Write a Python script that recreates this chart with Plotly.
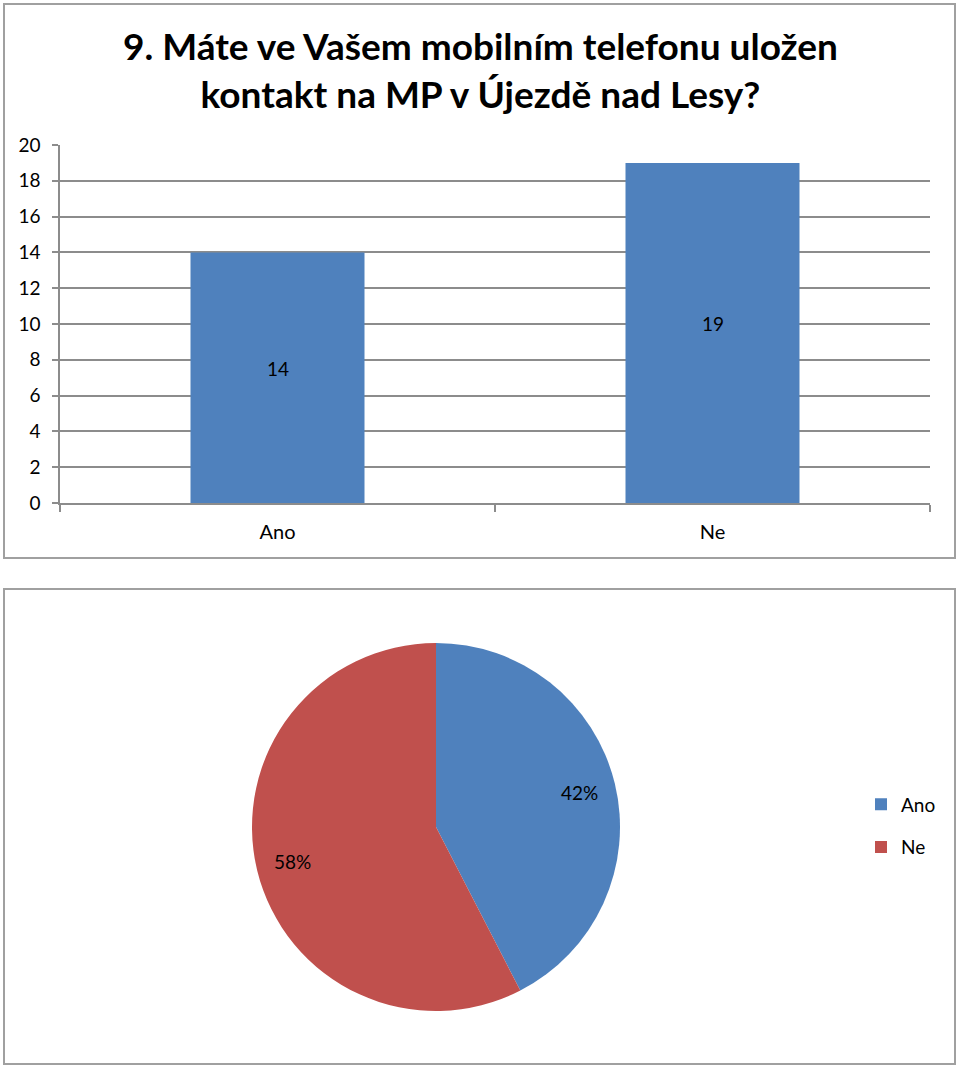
import math
import plotly.graph_objects as go

categories = ["Ano", "Ne"]
counts = [14, 19]
colors = ["#4F81BD", "#C0504D"]
title_lines = ["9. Máte ve Vašem mobilním telefonu uložen", "kontakt na MP v Újezdě nad Lesy?"]
y_ticks = [0, 2, 4, 6, 8, 10, 12, 14, 16, 18, 20]

W, H = 960, 1066
FONT = "Lato, Carlito, Calibri, sans-serif"

def px_x(x):
    return x / W

def px_y(y):
    return 1 - y / H

fig = go.Figure()

fig.add_trace(go.Bar(
    x=categories, y=counts, marker_color=colors[0], marker_line_width=0,
    xaxis="x", yaxis="y", showlegend=False, hoverinfo="skip",
))

total = sum(counts)
fig.add_trace(go.Pie(
    labels=categories, values=counts, marker=dict(colors=colors, line=dict(width=0)),
    sort=False, direction="clockwise", rotation=0, textinfo="none",
    domain=dict(x=[px_x(252), px_x(620)], y=[px_y(1011), px_y(643)]),
    showlegend=False, hoverinfo="skip", automargin=False,
))

# legend entries for the pie slices (legend only, no marks drawn)
for lab, col in zip(categories, colors):
    fig.add_trace(go.Scatter(
        x=[None], y=[None], mode="markers", name=lab, legendgroup=lab,
        marker=dict(symbol="square", size=12, color=col), showlegend=True,
        hoverinfo="skip",
    ))

annotations = []

# bar value labels, centred in each bar (slightly raised like the original)
for lab, v in zip(categories, counts):
    annotations.append(dict(
        x=lab, y=v / 2, xref="x", yref="y", showarrow=False, yshift=9,
        text=str(v), font=dict(size=19, family=FONT, color="#000000"),
    ))

# percentage labels placed along each slice's mid-angle
cx, cy, r = 436, 827, 184
start = 0.0
for lab, v in zip(categories, counts):
    frac = v / total
    mid = (start + frac / 2) * 2 * math.pi
    start += frac
    lx = cx + 0.8 * r * math.sin(mid)
    ly = cy - 0.8 * r * math.cos(mid)
    annotations.append(dict(
        x=px_x(lx), y=px_y(ly), xref="paper", yref="paper", showarrow=False,
        xanchor="center", yanchor="middle",
        text=f"{round(frac * 100)}%", font=dict(size=19, family=FONT, color="#000000"),
    ))

annotations.append(dict(
    x=0.5, y=px_y(70), xref="paper", yref="paper", showarrow=False,
    text="<b>" + title_lines[0] + "<br>" + title_lines[1] + "</b>",
    font=dict(size=37, family=FONT, color="#000000"), yanchor="middle",
))

fig.update_layout(
    width=W, height=H, margin=dict(l=0, r=0, t=0, b=0, autoexpand=False),
    paper_bgcolor="white", plot_bgcolor="white",
    font=dict(family=FONT, color="#000000"),
    bargap=0.6,
    xaxis=dict(
        domain=[px_x(60), px_x(930)], type="category", automargin=False,
        showline=True, linecolor="#8c8c8c", linewidth=1.5,
        ticks="outside", tickson="boundaries", ticklen=7, tickcolor="#8c8c8c", tickwidth=1.5,
        tickfont=dict(size=20, family=FONT), showgrid=False, ticklabelstandoff=10,
    ),
    yaxis=dict(
        domain=[px_y(503), px_y(145)], range=[0, 20], tickvals=y_ticks, automargin=False,
        showline=True, linecolor="#8c8c8c", linewidth=1.5,
        ticks="outside", ticklen=6, tickcolor="#8c8c8c", tickwidth=1.5,
        showgrid=True, gridcolor="#8c8c8c", gridwidth=1.5, zeroline=False,
        tickfont=dict(size=19, family=FONT), ticklabelstandoff=8,
    ),
    legend=dict(
        x=px_x(861), y=px_y(826), xanchor="left", yanchor="middle",
        font=dict(size=19, family=FONT), itemwidth=30, bgcolor="rgba(0,0,0,0)",
        tracegroupgap=15,
    ),
    annotations=annotations,
    shapes=[
        dict(type="rect", xref="paper", yref="paper",
             x0=px_x(4), x1=px_x(955), y0=px_y(558), y1=px_y(4),
             line=dict(color="#a0a0a0", width=2)),
        dict(type="rect", xref="paper", yref="paper",
             x0=px_x(4), x1=px_x(955), y0=px_y(1064), y1=px_y(589),
             line=dict(color="#a0a0a0", width=2)),
    ],
)

fig.write_html("out.html")
